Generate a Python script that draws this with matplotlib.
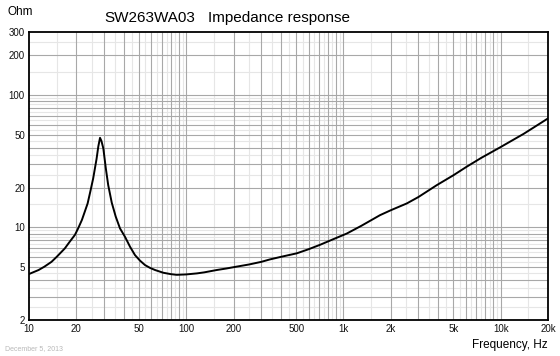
import numpy as np
import matplotlib
matplotlib.use('Agg')
from matplotlib import pyplot as plt
from matplotlib.ticker import FixedLocator, NullLocator

plt.rcParams['font.family'] = ['Liberation Sans', 'DejaVu Sans']

# impedance curve (Hz, Ohm)
freq = [10, 11.5, 12.5, 13.9, 15, 16.9, 18, 19.6, 20.5, 21.7, 22.5, 23.6,
        24.5, 25.6, 26.9, 27.6, 28.3, 28.9, 29.7, 30.8, 31.9, 33.6, 35.6,
        37.9, 40.8, 43.9, 47.2, 50.8, 54.7, 58.9, 63.4, 71.5, 80, 87,
        100, 117, 130, 156, 180, 209, 250, 300, 341, 400, 505, 600, 710,
        850, 1050, 1300, 1710, 2000, 2530, 3000, 3925, 5000, 6083, 7500,
        9910, 14000, 20000]
ohm = [4.45, 4.77, 5.05, 5.5, 6.0, 6.95, 7.7, 8.8, 9.8, 11.4, 12.9, 15.2,
       18.5, 23.5, 33.0, 41.0, 47.6, 45.0, 39.6, 28.0, 20.9, 15.4, 12.1,
       9.85, 8.5, 7.16, 6.19, 5.62, 5.2, 4.95, 4.77, 4.55, 4.44, 4.39,
       4.42, 4.5, 4.58, 4.77, 4.9, 5.06, 5.25, 5.5, 5.74, 6.0, 6.38, 6.85, 7.4,
       8.1, 9.0, 10.3, 12.4, 13.5, 15.2, 17.0, 20.9, 24.8, 28.8, 33.5,
       40.3, 51.0, 66.7]

x_ticks = [10, 20, 50, 100, 200, 500, 1000, 2000, 5000, 10000, 20000]
x_labels = ['10', '20', '50', '100', '200', '500', '1k', '2k', '5k', '10k', '20k']
y_ticks = [2, 5, 10, 20, 50, 100, 200, 300]
y_labels = ['2', '5', '10', '20', '50', '100', '200', '300']

fig = plt.figure(figsize=(5.6, 3.56), dpi=100)
ax = fig.add_axes([29/560, 1 - 320/356, 519/560, 288/356])
ax.set_xscale('log')
ax.set_yscale('log')
ax.set_xlim(10, 20000)
ax.set_ylim(2, 300)

# grid: n*10^k darker, (n+0.5)*10^k lighter
decades = [1, 10, 100, 1000, 10000]
for d in decades:
    for n in range(1, 10):
        for v, c in ((n * d, '#a8a8a8'), ((n + 0.5) * d, '#e6e6e6')):
            if 10 < v < 20000:
                ax.axvline(v, color=c, lw=0.8, zorder=1 if c == '#e6e6e6' else 2)
            if 2 < v < 300:
                ax.axhline(v, color=c, lw=0.8, zorder=1 if c == '#e6e6e6' else 2)

ax.plot(freq, ohm, color='black', lw=1.4, zorder=5)

ax.xaxis.set_major_locator(FixedLocator(x_ticks))
ax.xaxis.set_minor_locator(NullLocator())
ax.set_xticklabels(x_labels)
ax.yaxis.set_major_locator(FixedLocator(y_ticks))
ax.yaxis.set_minor_locator(NullLocator())
ax.set_yticklabels(y_labels)
ax.tick_params(axis='both', length=0, labelsize=7, colors='#111111', pad=3)

for s in ax.spines.values():
    s.set_linewidth(1.3)
    s.set_color('black')
    s.set_zorder(6)

fig.text(104/560, 1 - 18/356, 'SW263WA03', fontsize=11, va='center', ha='left')
fig.text(208/560, 1 - 18/356, 'Impedance response', fontsize=11, va='center', ha='left')
fig.text(8/560, 1 - 12/356, 'Ohm', fontsize=8.5, va='center', ha='left')
fig.text(548/560, 1 - 345/356, 'Frequency, Hz', fontsize=8.5, va='center', ha='right')
fig.text(5/560, 1 - 349/356, 'December 5, 2013', fontsize=5, va='center', ha='left',
         color='#b8b8b8')

fig.savefig('out.png', dpi=100)
